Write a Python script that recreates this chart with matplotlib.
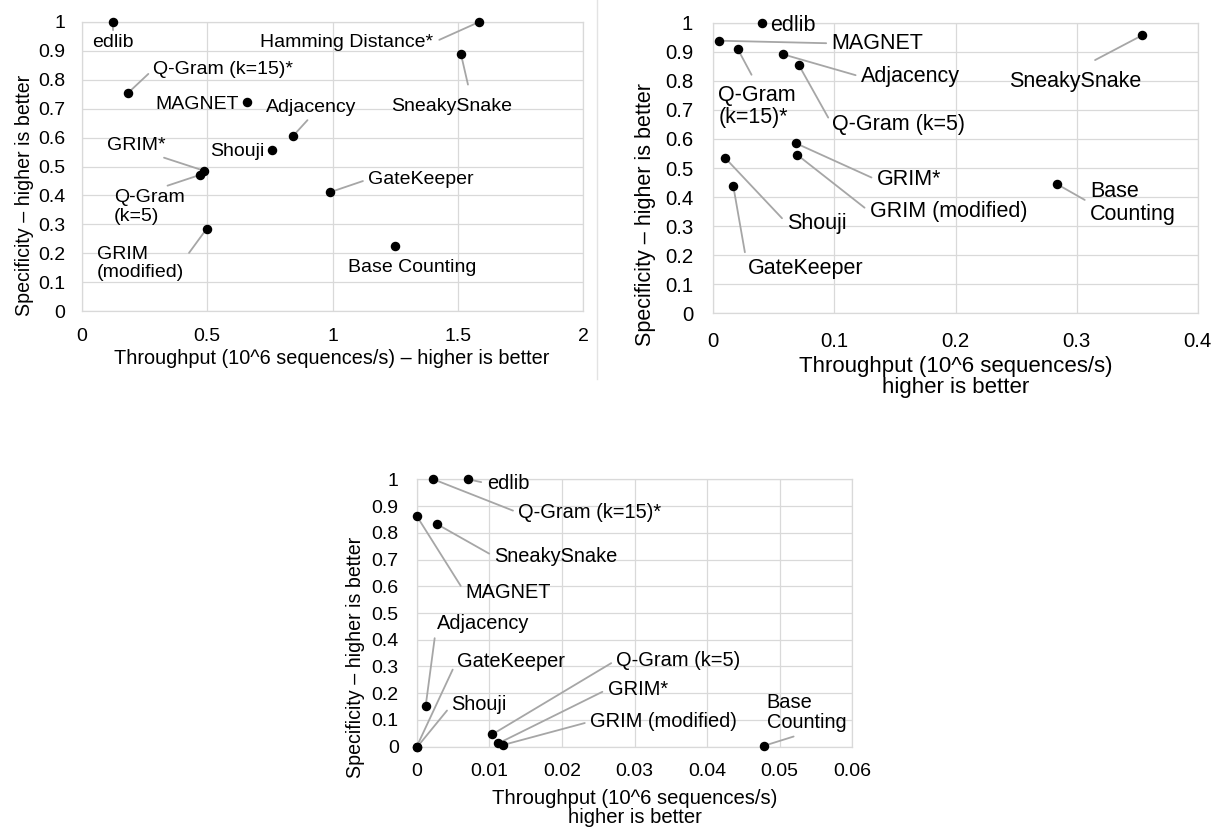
import matplotlib.pyplot as plt
from matplotlib.lines import Line2D

W, H = 1216, 832
plt.rcParams['font.family'] = ['Liberation Sans', 'DejaVu Sans']

y_ticks = [0, 0.1, 0.2, 0.3, 0.4, 0.5, 0.6, 0.7, 0.8, 0.9, 1]
y_tick_labels = ['0', '0.1', '0.2', '0.3', '0.4', '0.5', '0.6', '0.7', '0.8', '0.9', '1']

# top left panel
tl_names = ['edlib', 'Q-Gram (k=15)*', 'MAGNET', 'Adjacency', 'Shouji', 'GRIM*',
            'Q-Gram\n(k=5)', 'GRIM\n(modified)', 'Hamming Distance*', 'SneakySnake',
            'GateKeeper', 'Base Counting']
tl_x = [0.122, 0.182, 0.657, 0.844, 0.757, 0.488, 0.471, 0.498, 1.585, 1.513, 0.990, 1.249]
tl_y = [1.0, 0.753, 0.722, 0.607, 0.557, 0.485, 0.471, 0.285, 1.0, 0.888, 0.411, 0.225]
tl_x_ticks = [0, 0.5, 1, 1.5, 2]
tl_x_tick_labels = ['0', '0.5', '1', '1.5', '2']

# top right panel
tr_names = ['edlib', 'MAGNET', 'Q-Gram\n(k=15)*', 'Adjacency', 'Q-Gram (k=5)', 'GRIM*',
            'GRIM (modified)', 'Shouji', 'GateKeeper', 'SneakySnake', 'Base\nCounting']
tr_x = [0.0405, 0.005, 0.0201, 0.0578, 0.0708, 0.0683, 0.0694, 0.0097, 0.0165, 0.3543, 0.284]
tr_y = [1.0, 0.938, 0.910, 0.891, 0.853, 0.585, 0.545, 0.535, 0.438, 0.957, 0.444]
tr_x_ticks = [0, 0.1, 0.2, 0.3, 0.4]
tr_x_tick_labels = ['0', '0.1', '0.2', '0.3', '0.4']

# bottom panel
b_names = ['edlib', 'Q-Gram (k=15)*', 'MAGNET', 'SneakySnake', 'Adjacency', 'GateKeeper',
           'Shouji', 'Q-Gram (k=5)', 'GRIM*', 'GRIM (modified)', 'Base\nCounting']
b_x = [0.0071, 0.0023, 0.0, 0.00275, 0.00124, 0.0, 0.0001, 0.0104, 0.01124, 0.01184, 0.0478]
b_y = [1.0, 1.0, 0.863, 0.833, 0.153, 0.0, 0.0, 0.046, 0.0125, 0.006, 0.003]
b_x_ticks = [0, 0.01, 0.02, 0.03, 0.04, 0.05, 0.06]
b_x_tick_labels = ['0', '0.01', '0.02', '0.03', '0.04', '0.05', '0.06']

# label placement: (x, y, ha, leader relpos or None, leader gap)
tl_layout = [
    (0.125, 0.928, 'center', (0.5, 1.0), 1),
    (0.284, 0.836, 'left', (0, 0.5), 2),
    (0.627, 0.716, 'right', None, 0),
    (0.914, 0.703, 'center', (0.5, 0), 1),
    (0.730, 0.551, 'right', None, 0),
    (0.218, 0.571, 'center', (0.8, 0), 1),
    (0.128, 0.360, 'left', (0.6, 1), 2),
    (0.058, 0.164, 'left', (1, 0.6), 3),
    (1.400, 0.928, 'right', (1, 0.5), 3),
    (1.476, 0.707, 'center', (0.66, 1), 8),
    (1.143, 0.456, 'left', (0, 0.5), 2),
    (1.320, 0.150, 'center', None, 0),
]
tr_layout = [
    (0.0468, 0.989, 'left', None, 0),
    (0.0978, 0.929, 'left', (0, 0.5), 2),
    (0.0040, 0.711, 'left', (0.5, 1), 6),
    (0.1220, 0.814, 'left', (0, 0.5), 2),
    (0.0983, 0.648, 'left', (0, 0.5), 2),
    (0.1350, 0.459, 'left', (0, 0.5), 2),
    (0.1290, 0.350, 'left', (0, 0.5), 2),
    (0.0606, 0.310, 'left', (0, 0.5), 2),
    (0.0284, 0.155, 'left', (0, 0.5), 2),
    (0.2987, 0.799, 'center', (0.5, 1), 12),
    (0.3110, 0.380, 'left', (0, 0.5), 2),
]
b_layout = [
    (0.00964, 0.985, 'left', (0, 0.5), 2),
    (0.0140, 0.875, 'left', (0, 0.5), 2),
    (0.00665, 0.576, 'left', (0, 0.5), 2),
    (0.0107, 0.711, 'left', (0, 0.5), 2),
    (0.00275, 0.462, 'left', (0, 0.5), 2),
    (0.0055, 0.320, 'left', (0, 0.5), 2),
    (0.0048, 0.156, 'left', (0, 0.5), 2),
    (0.0275, 0.324, 'left', (0, 0.5), 2),
    (0.0263, 0.215, 'left', (0, 0.5), 2),
    (0.0239, 0.094, 'left', (0, 0.5), 2),
    (0.0482, 0.127, 'left', (0.5, 0), 3),
]

GRID = '#d9d9d9'
LEADER = '#a6a6a6'


def px_axes(fig, left, top, right, bottom):
    return fig.add_axes([left / W, 1 - bottom / H, (right - left) / W, (bottom - top) / H])


def fig_text(fig, x, y, s, size, rotation=0):
    fig.text(x / W, 1 - y / H, s, ha='center', va='center', fontsize=size,
             rotation=rotation, linespacing=0.95, color='#000000')


def draw_panel(ax, names, xs, ys, layout, x_ticks, x_tick_labels, tick_size, label_size, xpad, ypad):
    ax.set_xlim(x_ticks[0], x_ticks[-1])
    ax.set_ylim(0, 1)
    ax.set_xticks(x_ticks)
    ax.set_xticklabels(x_tick_labels)
    ax.set_yticks(y_ticks)
    ax.set_yticklabels(y_tick_labels)
    ax.tick_params(axis='x', length=0, pad=xpad, labelsize=tick_size)
    ax.tick_params(axis='y', length=0, pad=ypad, labelsize=tick_size)
    ax.grid(True, color=GRID, lw=0.9)
    ax.set_axisbelow(True)
    for sp in ax.spines.values():
        sp.set_color(GRID)
        sp.set_linewidth(0.9)

    ax.scatter(xs, ys, s=34, color='black', zorder=5, clip_on=False)

    for name, x, y, (lx, ly, ha, rp, gap) in zip(names, xs, ys, layout):
        arrow = None
        if rp is not None:
            arrow = dict(arrowstyle='-', color=LEADER, lw=1.3, shrinkA=gap, shrinkB=0, relpos=rp)
        ax.annotate(name, xy=(x, y), xytext=(lx, ly), textcoords='data', ha=ha, va='center',
                    fontsize=label_size, linespacing=1.1, arrowprops=arrow, annotation_clip=False)


fig = plt.figure(figsize=(W / 100, H / 100), dpi=100)

ax_tl = px_axes(fig, 82, 22, 583, 311)
draw_panel(ax_tl, tl_names, tl_x, tl_y, tl_layout, tl_x_ticks, tl_x_tick_labels, 14, 14, 12, 12)
fig_text(fig, 332, 358, 'Throughput (10^6 sequences/s) – higher is better', 14.3)
fig_text(fig, 25, 195, 'Specificity – higher is better', 14.1, rotation=90)

ax_tr = px_axes(fig, 713.3, 22.7, 1197.7, 313.3)
draw_panel(ax_tr, tr_names, tr_x, tr_y, tr_layout, tr_x_ticks, tr_x_tick_labels, 14.7, 15.5, 13.7, 14.6)
fig_text(fig, 956, 377, 'Throughput (10^6 sequences/s)\nhigher is better', 16)
fig_text(fig, 645, 215, 'Specificity – higher is better', 15.5, rotation=90)

ax_b = px_axes(fig, 416.7, 479.3, 852.3, 746.7)
draw_panel(ax_b, b_names, b_x, b_y, b_layout, b_x_ticks, b_x_tick_labels, 14, 14.4, 12, 13)
fig_text(fig, 635, 808, 'Throughput (10^6 sequences/s)\nhigher is better', 14.6)
fig_text(fig, 355, 657, 'Specificity – higher is better', 14.1, rotation=90)

# thin divider between the two top charts
fig.add_artist(Line2D([597 / W, 597 / W], [1, 1 - 379 / H], color='#e3e3e3', lw=1))

fig.savefig('out.png', dpi=100, facecolor='white')
